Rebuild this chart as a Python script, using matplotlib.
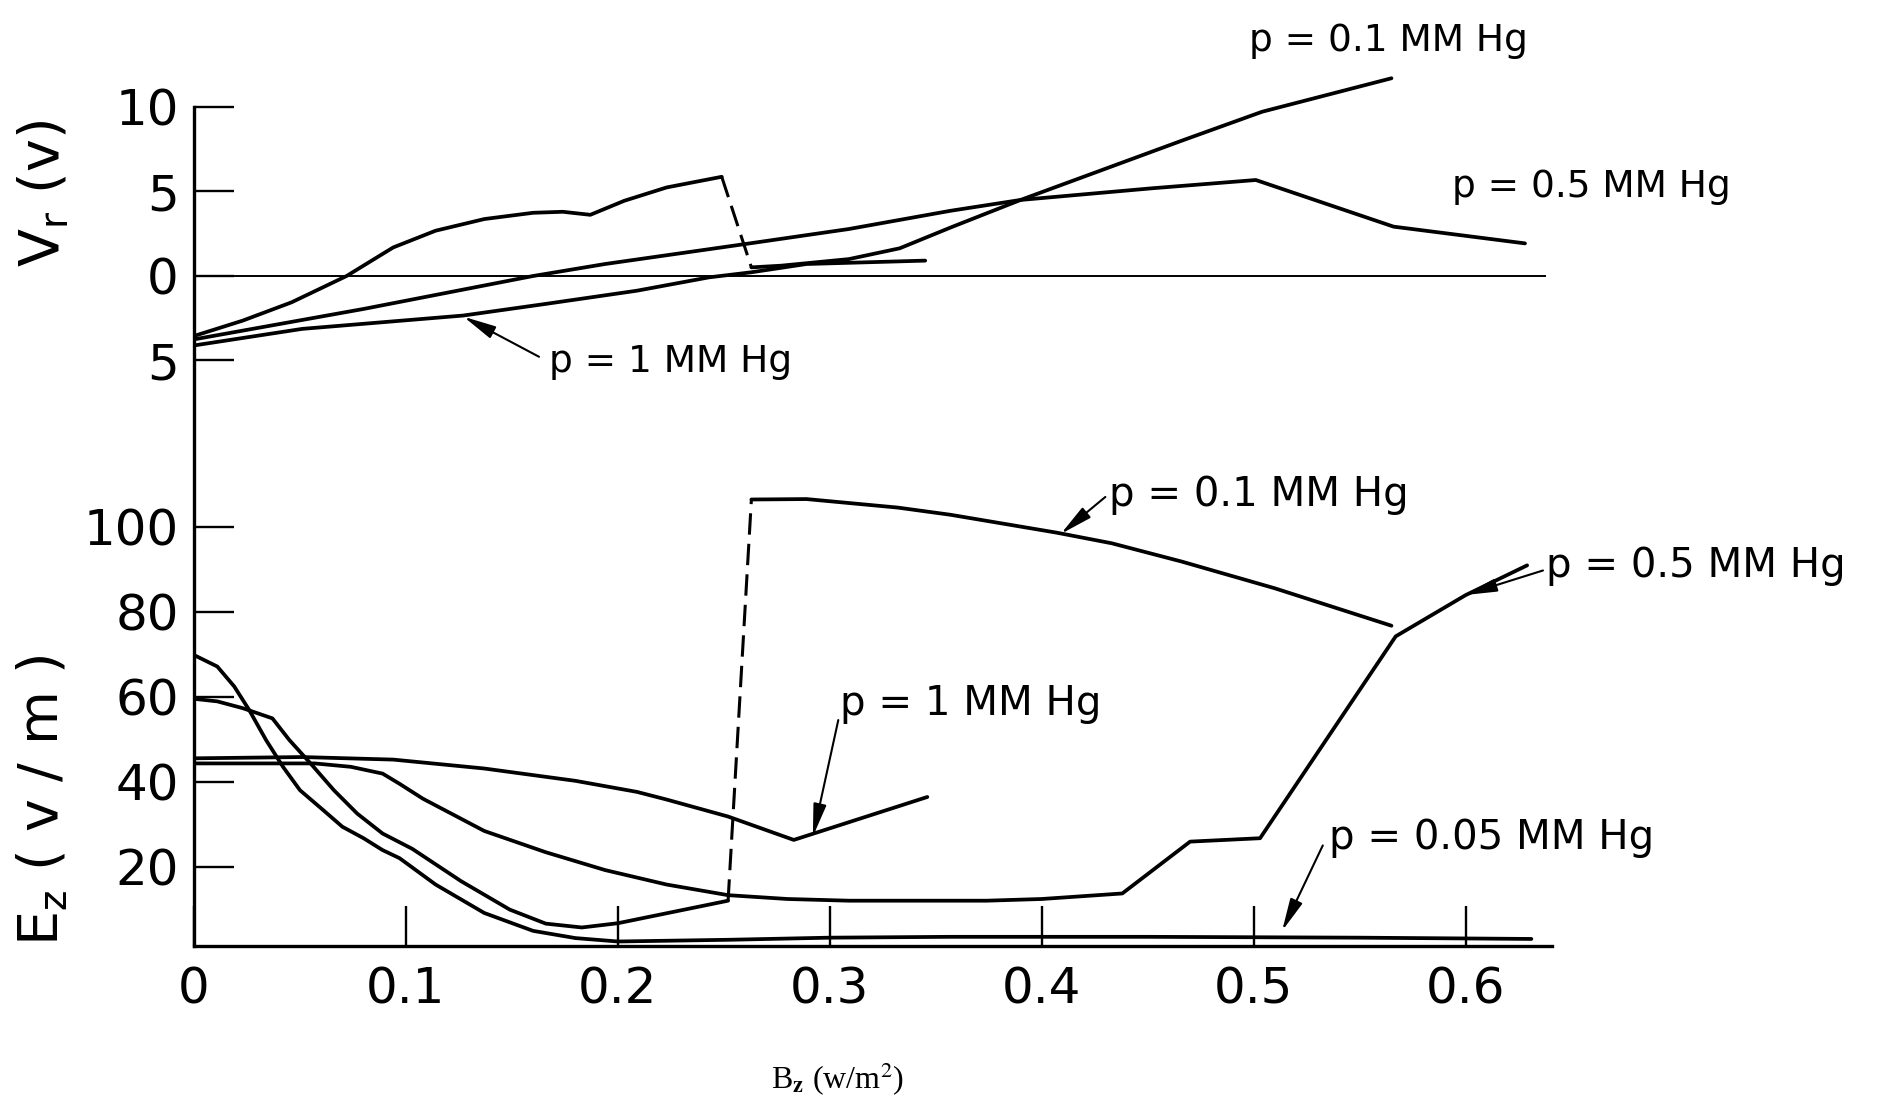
import matplotlib
matplotlib.use("Agg")
import matplotlib.pyplot as plt

# ---- data ----
# radial voltage V_r (v) vs B_z
b_vr_01a = [0, 0.023, 0.046, 0.072, 0.094, 0.114, 0.137, 0.160, 0.174, 0.187, 0.203, 0.223, 0.249]
vr_01a = [-3.55, -2.64, -1.56, 0.0, 1.69, 2.68, 3.37, 3.74, 3.80, 3.62, 4.45, 5.24, 5.87]
b_vr_01b = [0.263, 0.277, 0.309, 0.333, 0.357, 0.390, 0.467, 0.504, 0.565]
vr_01b = [0.51, 0.61, 1.00, 1.64, 2.87, 4.50, 8.05, 9.72, 11.70]

b_vr_05 = [0, 0.080, 0.160, 0.194, 0.260, 0.309, 0.357, 0.390, 0.452, 0.501, 0.566, 0.628]
vr_05 = [-3.75, -1.95, 0.0, 0.71, 1.89, 2.78, 3.86, 4.50, 5.19, 5.68, 2.92, 1.93]

b_vr_1 = [0, 0.051, 0.127, 0.166, 0.209, 0.243, 0.263, 0.289, 0.345]
vr_1 = [-4.11, -3.13, -2.34, -1.65, -0.87, -0.08, 0.22, 0.71, 0.91]

# axial field E_z (v/m) vs B_z
b_ez_01a = [0, 0.011, 0.023, 0.037, 0.045, 0.055, 0.066, 0.077, 0.089, 0.103, 0.126, 0.149,
            0.166, 0.183, 0.200, 0.252]
ez_01a = [59.5, 58.9, 57.3, 54.9, 49.8, 44.3, 38.0, 32.5, 27.8, 24.2, 16.6, 9.9, 6.6, 5.7, 6.7, 12.0]
b_ez_01b = [0.263, 0.289, 0.332, 0.357, 0.407, 0.433, 0.466, 0.510, 0.565]
ez_01b = [106.4, 106.5, 104.5, 102.8, 98.6, 96.1, 91.8, 85.5, 76.7]

b_ez_005 = [0, 0.011, 0.019, 0.026, 0.034, 0.042, 0.050, 0.061, 0.070, 0.080, 0.089, 0.097,
            0.114, 0.137, 0.160, 0.180, 0.200, 0.252, 0.300, 0.357, 0.450, 0.550, 0.631]
ez_005 = [69.8, 67.1, 62.4, 56.9, 49.8, 43.5, 38.0, 33.3, 29.4, 26.7, 23.9, 22.0,
          15.8, 9.1, 4.9, 3.2, 2.4, 2.8, 3.3, 3.5, 3.5, 3.3, 3.0]

b_ez_05 = [0, 0.057, 0.074, 0.089, 0.097, 0.108, 0.137, 0.166, 0.194, 0.223, 0.252, 0.280,
           0.309, 0.374, 0.400, 0.438, 0.470, 0.503, 0.567, 0.600, 0.629]
ez_05 = [44.3, 44.3, 43.5, 41.9, 39.5, 36.0, 28.4, 23.4, 19.2, 15.8, 13.3, 12.4,
         12.0, 12.0, 12.4, 13.7, 25.9, 26.7, 74.2, 83.9, 90.9]

b_ez_1 = [0, 0.051, 0.094, 0.137, 0.180, 0.209, 0.223, 0.252, 0.283, 0.346]
ez_1 = [45.5, 45.8, 45.2, 43.1, 40.2, 37.6, 35.8, 31.8, 26.3, 36.4]

x_ticks = [0, 0.1, 0.2, 0.3, 0.4, 0.5, 0.6]
x_labels = ["0", "0.1", "0.2", "0.3", "0.4", "0.5", "0.6"]
vr_ticks = [-5, 0, 5, 10]
vr_labels = ["5", "0", "5", "10"]
ez_ticks = [20, 40, 60, 80, 100]
ez_labels = ["20", "40", "60", "80", "100"]

zero_line_end = 0.6377

# ---- figure ----
fig = plt.figure(figsize=(18.86, 11.03), dpi=100)
box = [0.10286, 0.14234, 0.71988, 0.83046]
ax_e = fig.add_axes(box)
ax_v = fig.add_axes(box, sharex=ax_e)
ax_v.patch.set_visible(False)

xlim = (0, 0.6406)
ez_lim = (1.34, 216.87)
vr_lim = (-39.645, 14.556)
ax_e.set_xlim(*xlim)
ax_e.set_ylim(*ez_lim)
ax_v.set_ylim(*vr_lim)

lw = 2.7
k = "black"
solid = dict(color=k, lw=lw, solid_joinstyle="round", solid_capstyle="round")
dashed = dict(color=k, lw=2.2, linestyle=(0, (7, 3)))

# V_r curves
ax_v.plot(b_vr_01a, vr_01a, **solid)
ax_v.plot([b_vr_01a[-1], b_vr_01b[0]], [vr_01a[-1], vr_01b[0]], **dashed)
ax_v.plot(b_vr_01b, vr_01b, **solid)
ax_v.plot(b_vr_05, vr_05, **solid)
ax_v.plot(b_vr_1, vr_1, **solid)
ax_v.hlines(0, 0, zero_line_end, color=k, lw=1.4)

# E_z curves
ax_e.plot(b_ez_01a, ez_01a, **solid)
ax_e.plot([b_ez_01a[-1], b_ez_01b[0]], [ez_01a[-1], ez_01b[0]], **dashed)
ax_e.plot(b_ez_01b, ez_01b, **solid)
ax_e.plot(b_ez_005, ez_005, **solid)
ax_e.plot(b_ez_05, ez_05, **solid)
ax_e.plot(b_ez_1, ez_1, **solid)

# axes styling
for s in ax_v.spines.values():
    s.set_visible(False)
ax_e.spines["top"].set_visible(False)
ax_e.spines["right"].set_visible(False)
ax_e.spines["left"].set_linewidth(2.4)
ax_e.spines["bottom"].set_linewidth(2.4)
# left spine runs up to V_r = 10
frac = (10 - vr_lim[0]) / (vr_lim[1] - vr_lim[0])
ax_e.spines["left"].set_bounds(ez_lim[0], ez_lim[0] + frac * (ez_lim[1] - ez_lim[0]))

ax_e.set_xticks(x_ticks)
ax_e.set_xticklabels(x_labels)
ax_e.set_yticks(ez_ticks)
ax_e.set_yticklabels(ez_labels)
ax_v.set_yticks(vr_ticks)
ax_v.set_yticklabels(vr_labels)

ax_e.tick_params(axis="x", direction="in", length=29, width=1.7, labelsize=36, pad=14)
ax_e.tick_params(axis="y", direction="in", length=29, width=1.7, labelsize=36, pad=11)
ax_v.tick_params(axis="y", direction="in", length=29, width=1.7, labelsize=36, pad=11)
ax_v.tick_params(axis="x", bottom=False, labelbottom=False)

# labels and arrows
arrow = dict(arrowstyle="-|>,head_length=0.9,head_width=0.18", color=k, lw=1.5,
             mutation_scale=22, shrinkA=0, shrinkB=0)

ax_v.text(0.4978, 13.33, "p = 0.1 MM Hg", fontsize=27, ha="left", va="baseline")
ax_v.text(0.5936, 4.69, "p = 0.5 MM Hg", fontsize=27, ha="left", va="baseline")
ax_v.text(0.1673, -5.66, "p = 1 MM Hg", fontsize=27, ha="left", va="baseline")
ax_v.annotate("", xy=(0.1272, -2.41), xytext=(0.1628, -4.78), arrowprops=arrow)

ax_e.text(0.4318, 104.9, "p = 0.1 MM Hg", fontsize=29, ha="left", va="baseline")
ax_e.annotate("", xy=(0.409, 98.3), xytext=(0.430, 107.0), arrowprops=arrow)
ax_e.text(0.638, 88.1, "p = 0.5 MM Hg", fontsize=29, ha="left", va="baseline")
ax_e.annotate("", xy=(0.5994, 83.9), xytext=(0.6365, 89.7), arrowprops=arrow)
ax_e.text(0.305, 55.8, "p = 1 MM Hg", fontsize=29, ha="left", va="baseline")
ax_e.annotate("", xy=(0.292, 27.1), xytext=(0.304, 54.5), arrowprops=arrow)
ax_e.text(0.5356, 24.2, "p = 0.05 MM Hg", fontsize=29, ha="left", va="baseline")
ax_e.annotate("", xy=(0.5134, 4.9), xytext=(0.5326, 25.0), arrowprops=arrow)

fig.text(43 / 1886, 1 - 194 / 1103, r"V$_\mathrm{r}$ (v)", rotation=90,
         ha="center", va="center", fontsize=40)
fig.text(43 / 1886, 1 - 800 / 1103, r"E$_\mathrm{z}$ ( v / m )", rotation=90,
         ha="center", va="center", fontsize=40)
fig.text(838 / 1886, 1 - 1079 / 1103, r"B$_\mathbf{z}$ (w/m$^2$)", family="Liberation Serif",
         math_fontfamily="stix", fontsize=23, ha="center", va="center")

fig.savefig("out.png", dpi=100)
